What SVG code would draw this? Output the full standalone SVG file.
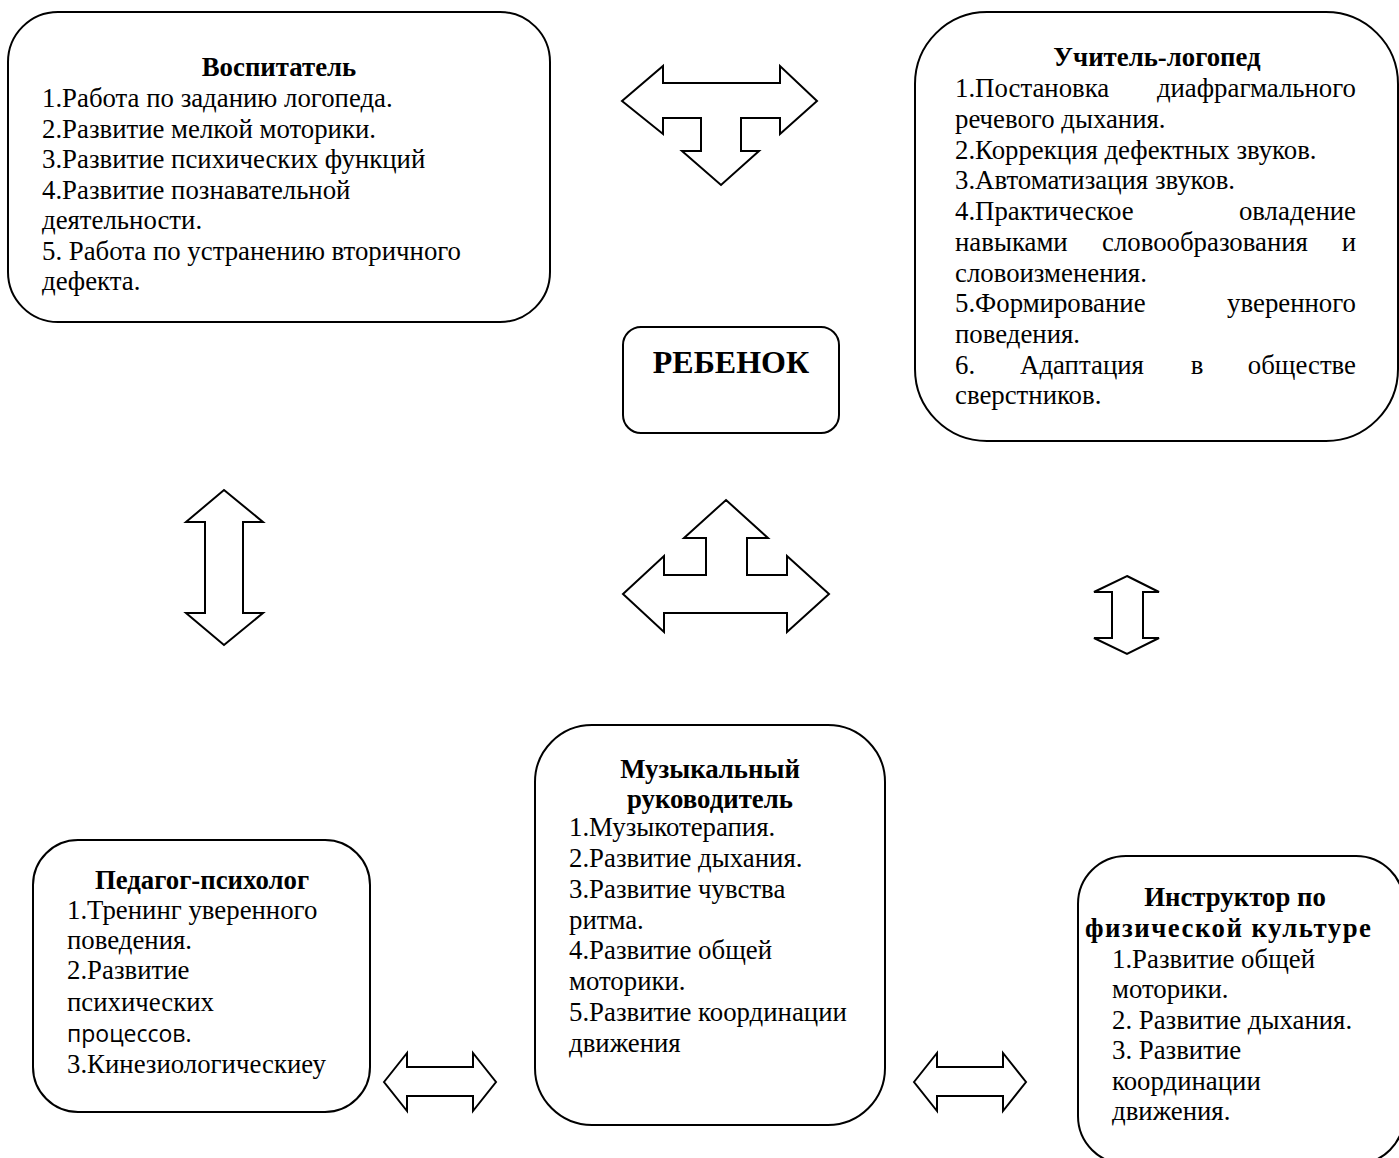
<svg xmlns="http://www.w3.org/2000/svg" width="1399" height="1158" viewBox="0 0 1399 1158">
<style>
.box{fill:#fff;stroke:#000;stroke-width:2}
.arr{fill:#fff;stroke:#000;stroke-width:2;stroke-linejoin:miter}
.t{font-family:"Liberation Serif","Times New Roman",serif;font-size:26.8px;fill:#000}
.b{font-weight:bold}
.c{text-anchor:middle}
.e{text-anchor:end}
.s{font-family:"Open Sans","Noto Sans",sans-serif;font-size:23px;fill:#000}
</style>
<rect width="1399" height="1158" fill="#fff"/>
<g id="connectors">
<polygon class="arr" points="622,101 663,66 663,83 780,83 780,66 817,101 780,134 780,118 741,118 741,151 759,151 721,185 682,151 701,151 701,118 663,118 663,134"/>
<polygon class="arr" points="224,490 263,522 243,522 243,613 263,613 224,645 186,613 205,613 205,522 186,522"/>
<polygon class="arr" points="726,500 768,538 747,538 747,575 787,575 787,556 829,594 787,632 787,613 664,613 664,632 623,594 664,556 664,575 706,575 706,538 684,538"/>
<polygon class="arr" points="1127,576 1159,592 1143,592 1143,638 1159,638 1127,654 1094,638 1112,638 1112,592 1094,592"/>
<polygon class="arr" points="384,1082 407,1053 407,1067 473,1067 473,1053 496,1082 473,1111 473,1096 407,1096 407,1111"/>
<polygon class="arr" points="914,1082 937,1053 937,1067 1003,1067 1003,1053 1026,1082 1003,1111 1003,1096 937,1096 937,1111"/>
</g>
<g id="vospitatel">
<rect class="box" x="8" y="12" width="542" height="310" rx="50" ry="50"/>
<text class="t b c" x="279" y="76">Воспитатель</text>
<text class="t" x="42" y="107">1.Работа по заданию логопеда.</text>
<text class="t" x="42" y="137.5">2.Развитие мелкой моторики.</text>
<text class="t" x="42" y="168">3.Развитие психических функций</text>
<text class="t" x="42" y="198.5">4.Развитие познавательной</text>
<text class="t" x="42" y="229">деятельности.</text>
<text class="t" x="42" y="259.5">5. Работа по устранению вторичного</text>
<text class="t" x="42" y="290">дефекта.</text>
</g>
<g id="logoped">
<rect class="box" x="915" y="12" width="483" height="429" rx="72" ry="72"/>
<text class="t b c" x="1157" y="66">Учитель-логопед</text>
<text class="t" x="955" y="97">1.Постановка</text>
<text class="t e" x="1356" y="97">диафрагмального</text>
<text class="t" x="955" y="128">речевого дыхания.</text>
<text class="t" x="955" y="158.5">2.Коррекция дефектных звуков.</text>
<text class="t" x="955" y="189">3.Автоматизация звуков.</text>
<text class="t" x="955" y="220">4.Практическое</text>
<text class="t e" x="1356" y="220">овладение</text>
<text class="t" x="955" y="251">навыками</text>
<text class="t c" x="1205" y="251">словообразования</text>
<text class="t e" x="1356" y="251">и</text>
<text class="t" x="955" y="281.5">словоизменения.</text>
<text class="t" x="955" y="312">5.Формирование</text>
<text class="t e" x="1356" y="312">уверенного</text>
<text class="t" x="955" y="343">поведения.</text>
<text class="t" x="955" y="373.5">6.</text>
<text class="t c" x="1082" y="373.5">Адаптация</text>
<text class="t c" x="1197" y="373.5">в</text>
<text class="t e" x="1356" y="373.5">обществе</text>
<text class="t" x="955" y="404">сверстников.</text>
</g>
<g id="rebenok">
<rect class="box" x="623" y="327" width="216" height="106" rx="18" ry="18"/>
<text class="t b c" x="731" y="373" style="font-size:32px">РЕБЕНОК</text>
</g>
<g id="psiholog">
<rect class="box" x="33" y="840" width="337" height="272" rx="45" ry="45"/>
<text class="t b c" x="202" y="889">Педагог-психолог</text>
<text class="t" x="67" y="919">1.Тренинг уверенного</text>
<text class="t" x="67" y="949">поведения.</text>
<text class="t" x="67" y="979">2.Развитие</text>
<text class="t" x="67" y="1011">психических</text>
<text class="s" x="67" y="1042">процессов.</text>
<text class="t" x="67" y="1073">3.Кинезиологическиеу</text>
</g>
<g id="muzruk">
<rect class="box" x="535" y="725" width="350" height="400" rx="57" ry="57"/>
<text class="t b c" x="710" y="778">Музыкальный</text>
<text class="t b c" x="710" y="808">руководитель</text>
<text class="t" x="569" y="836">1.Музыкотерапия.</text>
<text class="t" x="569" y="867">2.Развитие дыхания.</text>
<text class="t" x="569" y="898">3.Развитие чувства</text>
<text class="t" x="569" y="929">ритма.</text>
<text class="t" x="569" y="959">4.Развитие общей</text>
<text class="t" x="569" y="990">моторики.</text>
<text class="t" x="569" y="1021">5.Развитие координации</text>
<text class="t" x="569" y="1052">движения</text>
</g>
<g id="instruktor">
<rect class="box" x="1078" y="856" width="326" height="308" rx="48" ry="48"/>
<text class="t b c" x="1235" y="906">Инструктор по</text>
<text class="t b c" x="1228" y="937" textLength="286" lengthAdjust="spacing">физической культуре</text>
<text class="t" x="1112" y="968">1.Развитие общей</text>
<text class="t" x="1112" y="998">моторики.</text>
<text class="t" x="1112" y="1029">2. Развитие дыхания.</text>
<text class="t" x="1112" y="1059">3. Развитие</text>
<text class="t" x="1112" y="1090">координации</text>
<text class="t" x="1112" y="1120">движения.</text>
</g>
</svg>
